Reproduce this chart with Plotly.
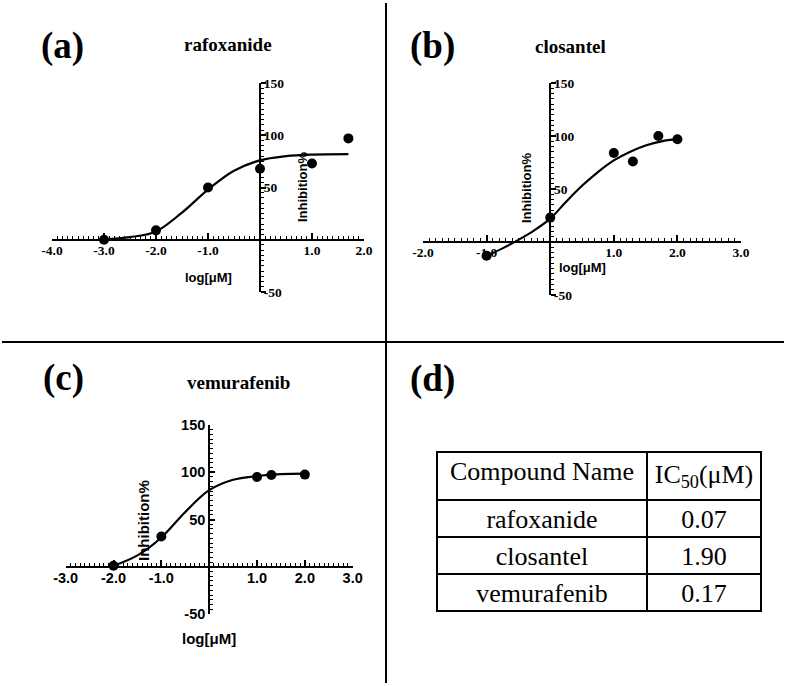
import plotly.graph_objects as go

W, H = 787, 686

# ---------------- data ----------------
raf_x = [-3.0, -2.0, -1.0, 0.0, 1.0, 1.7]
raf_y = [0, 9, 50, 68, 73, 97]
raf_fit_x = [-3.0, -2.5, -2.0, -1.5, -1.0, -0.5, 0.0, 0.5, 1.0, 1.7]
raf_fit_y = [0.5, 2.5, 8, 26, 48, 66, 76, 80, 81.5, 82]

clo_x = [-1.0, 0.0, 1.0, 1.3, 1.7, 2.0]
clo_y = [-13, 23, 84, 76, 100, 97]
clo_fit_x = [-1.0, -0.75, -0.5, -0.25, 0.0, 0.25, 0.5, 0.75, 1.0, 1.25, 1.5, 1.75, 2.0]
clo_fit_y = [-13, -6, 2, 11, 22, 38, 53, 66, 77, 85, 91, 95, 97]

vem_x = [-2.0, -1.0, 1.0, 1.3, 2.0]
vem_y = [1, 32, 95, 97, 97.5]
vem_fit_x = [-2.0, -1.5, -1.0, -0.5, 0.0, 0.5, 1.0, 1.5, 2.0]
vem_fit_y = [1, 12, 31, 58, 81, 92, 96, 98, 98.5]

x_ticks_a = [-4, -3, -2, -1, 1, 2]
x_ticks_b = [-2, -1, 1, 2, 3]
x_ticks_c = [-3, -2, -1, 1, 2, 3]
y_ticks = [-50, 50, 100, 150]

table_header = ["Compound Name", "IC<sub>50</sub>(μM)"]
table_compounds = ["rafoxanide", "closantel", "vemurafenib"]
table_ic50 = ["0.07", "1.90", "0.17"]

# ---------------- layout helpers ----------------
SERIF = "Liberation Serif, Times New Roman, serif"
SANS = "Liberation Sans, Arial, sans-serif"


def px_x(p):
    return p / W


def px_y(p):
    return 1 - p / H


def frac(v, rng, dom):
    return dom[0] + (v - rng[0]) / (rng[1] - rng[0]) * (dom[1] - dom[0])


def fmt(v):
    return f"{v:.1f}"


panels = {
    "a": dict(xr=[-4, 2], xd=[px_x(52), px_x(364)], yr=[-50, 150], yd=[px_y(292), px_y(83)]),
    "b": dict(xr=[-2, 3], xd=[px_x(423), px_x(741)], yr=[-50, 150], yd=[px_y(295), px_y(83)]),
    "c": dict(xr=[-3, 3], xd=[px_x(65.7), px_x(352.7)], yr=[-50, 150], yd=[px_y(614), px_y(425)]),
}

fig = go.Figure()

series = [
    ("a", "x", "y", raf_x, raf_y, raf_fit_x, raf_fit_y),
    ("b", "x2", "y2", clo_x, clo_y, clo_fit_x, clo_fit_y),
    ("c", "x3", "y3", vem_x, vem_y, vem_fit_x, vem_fit_y),
]
for key, xa, ya, px, py, fx, fy in series:
    fig.add_trace(go.Scatter(x=fx, y=fy, mode="lines", line=dict(color="black", width=2.2, shape="spline"),
                             xaxis=xa, yaxis=ya, showlegend=False, hoverinfo="skip", cliponaxis=False))
    fig.add_trace(go.Scatter(x=px, y=py, mode="markers", marker=dict(color="black", size=10),
                             xaxis=xa, yaxis=ya, showlegend=False, cliponaxis=False))

fig.add_trace(go.Table(
    domain=dict(x=[px_x(437), px_x(761)], y=[px_y(614), px_y(452)]),
    columnwidth=[210, 114],
    header=dict(values=table_header, align="center", height=41,
                font=dict(family=SERIF, size=26, color="black"),
                line=dict(color="black", width=2), fill=dict(color="white")),
    cells=dict(values=[table_compounds, table_ic50], align="center", height=37,
               font=dict(family=SERIF, size=26, color="black"),
               line=dict(color="black", width=2), fill=dict(color="white")),
))


def xaxis_cfg(p, ticks, font):
    return dict(
        domain=p["xd"], range=p["xr"], anchor="free", automargin=False,
        position=frac(0, p["yr"], p["yd"]),
        showline=True, linecolor="black", linewidth=2,
        showgrid=False, zeroline=False,
        tickmode="array", tickvals=ticks, ticktext=[fmt(t) for t in ticks],
        ticks="inside", ticklen=6, tickwidth=1.5, tickcolor="black",
        minor=dict(tickmode="linear", tick0=0, dtick=0.1, ticks="inside", ticklen=3,
                   tickwidth=1, tickcolor="black", showgrid=False),
        tickfont=font, fixedrange=True, ticklabelstandoff=-2,
    )


def yaxis_cfg(p, side, ticks_dir, font, standoff):
    return dict(
        domain=p["yd"], range=p["yr"], anchor="free", side=side, automargin=False,
        position=frac(0, p["xr"], p["xd"]),
        showline=True, linecolor="black", linewidth=2,
        showgrid=False, zeroline=False,
        tickmode="array", tickvals=y_ticks, ticktext=[str(t) for t in y_ticks],
        ticks=ticks_dir, ticklen=5, tickwidth=1.5, tickcolor="black",
        minor=dict(tickmode="linear", tick0=0, dtick=5, ticks=ticks_dir, ticklen=3,
                   tickwidth=1, tickcolor="black", showgrid=False),
        tickfont=font, fixedrange=True, ticklabelstandoff=standoff,
    )


serif_tick = dict(family=SERIF, size=13.5, color="black", weight="bold")
sans_tick = dict(family=SANS, size=14.5, color="black", weight="bold")

layout = dict(
    template="none",
    width=W, height=H, autosize=False, margin=dict(l=0, r=0, t=0, b=0, pad=0, autoexpand=False),
    paper_bgcolor="white", plot_bgcolor="rgba(0,0,0,0)",
    showlegend=False,
    xaxis=xaxis_cfg(panels["a"], x_ticks_a, serif_tick),
    yaxis=yaxis_cfg(panels["a"], "right", "outside", serif_tick, -5),
    xaxis2=xaxis_cfg(panels["b"], x_ticks_b, serif_tick),
    yaxis2=yaxis_cfg(panels["b"], "right", "outside", serif_tick, -5),
    xaxis3=xaxis_cfg(panels["c"], x_ticks_c, sans_tick),
    yaxis3=yaxis_cfg(panels["c"], "left", "inside", sans_tick, 0),
)
fig.update_layout(**layout)

# divider lines
fig.add_shape(type="line", xref="paper", yref="paper", x0=px_x(386), x1=px_x(386), y0=px_y(3), y1=px_y(683),
              line=dict(color="black", width=2))
fig.add_shape(type="line", xref="paper", yref="paper", x0=px_x(2), x1=px_x(784), y0=px_y(342), y1=px_y(342),
              line=dict(color="black", width=2))


def ann(text, x, y, font, angle=0):
    fig.add_annotation(text=text, x=px_x(x), y=px_y(y), xref="paper", yref="paper",
                       showarrow=False, font=font, textangle=angle, xanchor="center", yanchor="middle")


label_font = dict(family=SERIF, size=37, color="black", weight="bold")
title_font = dict(family=SERIF, size=19, color="black", weight="bold")
axis_font_ab = dict(family=SANS, size=13, color="black", weight="bold")
axis_font_c = dict(family=SANS, size=15, color="black", weight="bold")

ann("(a)", 62, 46, label_font)
ann("(b)", 432, 46, label_font)
ann("(c)", 63, 378, label_font)
ann("(d)", 432, 379, label_font)

ann("rafoxanide", 228, 45, title_font)
ann("closantel", 570, 46, title_font)
ann("vemurafenib", 238, 382, title_font)

ann("log[μM]", 208, 277, axis_font_ab)
ann("Inhibition%", 302, 187, axis_font_ab, -90)
ann("log[μM]", 582, 267, axis_font_ab)
ann("Inhibition%", 527, 188, axis_font_ab, -90)
ann("log[μM]", 209, 638, axis_font_c)
ann("Inhibition%", 143, 521, axis_font_c, -90)

fig.write_html("out.html", config={"displayModeBar": False},
               post_script="document.body.style.margin='0px';document.body.style.overflow='hidden';")
